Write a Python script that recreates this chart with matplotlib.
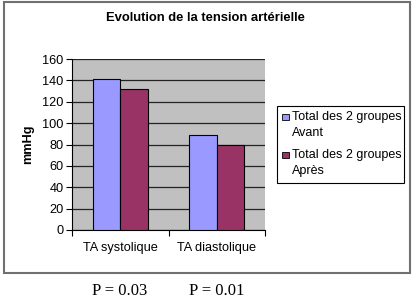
import matplotlib.pyplot as plt
from matplotlib.patches import Rectangle
import numpy as np

# Données
categories = ['TA systolique', 'TA diastolique']
avant = [141, 89]
apres = [132, 80]
legend_labels = ['Total des 2 groupes\nAvant', 'Total des 2 groupes\nAprès']
colors = ['#9999FF', '#993366']
p_values = ['P = 0.03', 'P = 0.01']

plt.rcParams['font.family'] = ['Liberation Sans', 'DejaVu Sans']

W, H = 412, 305
fig = plt.figure(figsize=(W / 100, H / 100), dpi=100)
fig.patch.set_facecolor('white')

def fx(px):
    return px / W

def fy(py):
    return 1 - py / H

# Cadre du graphique
fig.add_artist(Rectangle((fx(4), fy(273)), 406 / W, 271 / H,
                         transform=fig.transFigure, fill=False,
                         edgecolor='#707070', linewidth=1.5))

ax = fig.add_axes([fx(72), fy(230), 193 / W, 171 / H])
ax.set_facecolor('#C0C0C0')

x = np.arange(len(categories))
w = 1 / 3.5
ax.bar(x - w / 2, avant, w, color=colors[0], edgecolor='black', linewidth=0.8, zorder=3)
ax.bar(x + w / 2, apres, w, color=colors[1], edgecolor='black', linewidth=0.8, zorder=3)

ax.set_xlim(-0.5, 1.5)
ax.set_ylim(0, 160)
ax.set_yticks(range(0, 161, 20))
ax.yaxis.grid(True, color='#222222', linewidth=0.9, zorder=1)
ax.set_axisbelow(True)

ax.set_xticks(x)
ax.set_xticklabels(categories, fontsize=9.2)
ax.set_xticks([-0.5, 0.5, 1.5], minor=True)
ax.tick_params(axis='x', which='major', length=0, pad=9)
ax.tick_params(axis='x', which='minor', length=4, width=0.8)
ax.tick_params(axis='y', labelsize=9.2, length=4, width=0.8, pad=2)

for s in ['top', 'right']:
    ax.spines[s].set_visible(False)
ax.spines['left'].set_linewidth(0.8)
ax.spines['bottom'].set_linewidth(0.8)

ax.set_ylabel('mmHg', fontsize=9.2, fontweight='bold', labelpad=6)

fig.text(fx(205), fy(18), 'Evolution de la tension artérielle',
         ha='center', va='center', fontsize=9.4, fontweight='bold')

# Légende (carré aligné sur la première ligne, comme Excel)
fig.add_artist(Rectangle((fx(277), fy(183)), 127 / W, 77 / H,
                         transform=fig.transFigure, facecolor='white',
                         edgecolor='black', linewidth=0.8))
entry_top = [117, 155]
for lab, col, y0 in zip(legend_labels, colors, entry_top):
    fig.add_artist(Rectangle((fx(282), fy(y0 + 3)), 6.5 / W, 6.5 / H,
                             transform=fig.transFigure, facecolor=col,
                             edgecolor='black', linewidth=0.6))
    first, second = lab.split('\n')
    fig.text(fx(292), fy(y0), first, ha='left', va='center', fontsize=9)
    fig.text(fx(292), fy(y0 + 16), second, ha='left', va='center', fontsize=9)

# Valeurs p sous le graphique
for xp, p in zip([120, 217], p_values):
    fig.text(fx(xp), fy(291), p, ha='center', va='center',
             fontsize=12, family=['Liberation Serif', 'DejaVu Serif'])

plt.savefig('out.png', dpi=100)
